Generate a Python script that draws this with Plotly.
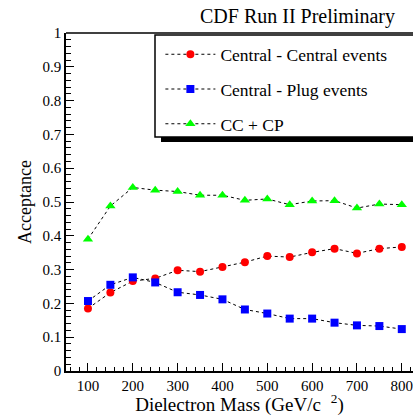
import plotly.graph_objects as go

mass = [100, 150, 200, 250, 300, 350, 400, 450, 500, 550, 600, 650, 700, 750, 800]
cc = [0.185, 0.232, 0.266, 0.274, 0.298, 0.294, 0.308, 0.322, 0.340, 0.337, 0.351, 0.362, 0.348, 0.362, 0.367]
cp = [0.207, 0.255, 0.277, 0.262, 0.233, 0.225, 0.212, 0.182, 0.170, 0.155, 0.155, 0.143, 0.135, 0.133, 0.124]
tot = [0.390, 0.488, 0.543, 0.535, 0.531, 0.520, 0.520, 0.505, 0.509, 0.492, 0.503, 0.504, 0.482, 0.494, 0.492]

names = ["Central - Central events", "Central - Plug events", "CC + CP"]
colors = ["#ff0000", "#0000ff", "#00ff00"]
symbols = ["circle", "square", "triangle-up"]
sizes = [8, 8, 9]
series = [cc, cp, tot]

FONT = "Liberation Serif"

fig = go.Figure()
for i, (nm, ys) in enumerate(zip(names, series)):
    fig.add_trace(go.Scatter(
        x=mass, y=ys, name=nm, mode="lines+markers",
        line=dict(color="black", width=1, dash="dot"),
        marker=dict(color=colors[i], symbol=symbols[i], size=sizes[i]),
        legendgroup=f"g{i}",
    ))

W, H = 413, 416
ml, mr, mt, mb = 66, 0, 33, 45
PW, PH = W - ml - mr, H - mt - mb

fig.update_layout(
    width=W, height=H,
    margin=dict(l=ml, r=mr, t=mt, b=mb),
    paper_bgcolor="white", plot_bgcolor="white",
    font=dict(family=FONT, color="black", size=14),
    showlegend=True,
    legend=dict(
        x=0.272, y=0.99, xanchor="left", yanchor="top",
        bgcolor="rgba(0,0,0,0)", borderwidth=0,
        font=dict(family=FONT, size=17.5, color="black"),
        tracegroupgap=9, itemwidth=50, traceorder="grouped",
    ),
    annotations=[dict(
        text="CDF Run II Preliminary", xref="paper", yref="paper",
        x=(297 - ml) / PW, y=1 + (33 - 16) / PH,
        xanchor="center", yanchor="middle", showarrow=False,
        font=dict(family=FONT, size=20, color="black"),
    )],
    shapes=[
        # legend shadow
        dict(type="rect", xref="paper", yref="paper", layer="above",
             x0=(161 - ml) / PW, x1=1.05,
             y0=1 - (142 - mt) / PH, y1=1 - (40 - mt) / PH,
             fillcolor="black", line=dict(width=0)),
        # legend box
        dict(type="rect", xref="paper", yref="paper", layer="above",
             x0=(155 - ml) / PW, x1=1.05,
             y0=1 - (137 - mt) / PH, y1=1 - (35 - mt) / PH,
             fillcolor="white", line=dict(color="black", width=1.5)),
        # top frame
        dict(type="line", xref="paper", yref="paper", x0=0, x1=1, y0=1, y1=1,
             line=dict(color="black", width=1.5), layer="above"),
    ],
)

fig.update_xaxes(
    range=[51, 825], showgrid=False, zeroline=False,
    showline=True, linecolor="black", linewidth=1.5,
    ticks="inside", ticklen=8, tickwidth=1, tickcolor="black",
    tick0=0, dtick=100, ticklabeloverflow="allow",
    minor=dict(ticks="inside", ticklen=4, dtick=20, tickcolor="black", tickwidth=1),
    tickfont=dict(family=FONT, size=15, color="black"),
    title=dict(text="Dielectron Mass (GeV/c<sup>   2</sup>)", standoff=6,
               font=dict(family=FONT, size=19, color="black")),
)
fig.update_yaxes(
    range=[0, 1], showgrid=False, zeroline=False,
    showline=True, linecolor="black", linewidth=1.5,
    ticks="inside", ticklen=8, tickwidth=1, tickcolor="black",
    tick0=0, dtick=0.1,
    minor=dict(ticks="inside", ticklen=5, dtick=0.02, tickcolor="black", tickwidth=1),
    tickfont=dict(family=FONT, size=15, color="black"),
    title=dict(text="Acceptance", standoff=6,
               font=dict(family=FONT, size=18, color="black")),
)

fig.write_html("out.html")
